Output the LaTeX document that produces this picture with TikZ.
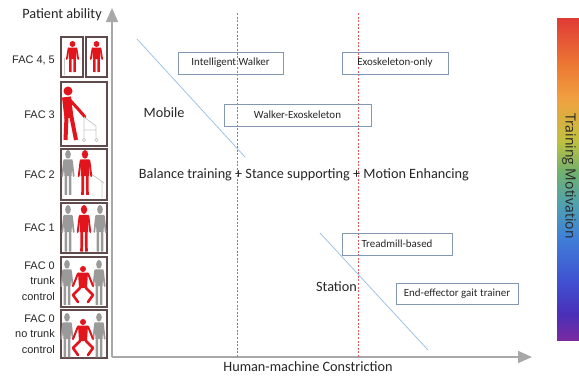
\documentclass[tikz,border=0pt]{standalone}
\usepackage{fontspec}
\setmainfont{Carlito}
\newfontfamily\arialf{Liberation Sans}
\newfontfamily\opensf{Open Sans}
\usetikzlibrary{arrows.meta}
\definecolor{figred}{HTML}{E3151C}
\definecolor{figgray}{HTML}{9A9A9A}
\definecolor{railgray}{HTML}{C8C8C8}
\definecolor{axisgray}{HTML}{A8A8A8}
\definecolor{boxblue}{HTML}{8497B0}
\definecolor{diagblue}{HTML}{9DC3E6}
\definecolor{dashred}{HTML}{E05A5A}
\definecolor{framebrown}{HTML}{5F4B4B}
\definecolor{txt}{HTML}{262626}
\definecolor{g0}{HTML}{E03A35}
\definecolor{g1}{HTML}{EC7A34}
\definecolor{g2}{HTML}{F0A040}
\definecolor{g3}{HTML}{C0C040}
\definecolor{g4}{HTML}{70B070}
\definecolor{g5}{HTML}{50A0B0}
\definecolor{g6}{HTML}{4080D8}
\definecolor{g7}{HTML}{4050D0}
\definecolor{g8}{HTML}{4A30B8}
\definecolor{g9}{HTML}{7A2AA0}
\pgfdeclareverticalshading{rainbowbar}{100bp}{color(0bp)=(g9); color(25bp)=(g9); color(29bp)=(g8); color(34bp)=(g7); color(41bp)=(g6); color(46bp)=(g5); color(51bp)=(g4); color(56bp)=(g3); color(62.5bp)=(g2); color(67.5bp)=(g1); color(75bp)=(g0); color(100bp)=(g0)}
% standing person: x, y (top of head), xscale, yscale, colour
\newcommand\stdperson[5]{%
  \begin{scope}[shift={(#1,#2)},xscale=#3,yscale=#4]
    \fill[#5] (0,3) circle (3);
    \fill[#5] (-4.5,6.5) -- (4.5,6.5) -- (3.8,18) -- (-3.8,18) -- cycle;
    \draw[#5,line width=#3*1.8bp,line cap=round] (-4.2,7.5) -- (-6,18) (4.2,7.5) -- (6,18);
    \draw[#5,line width=#3*2.6bp] (-2.1,17) -- (-2.3,31) (2.1,17) -- (2.3,31);
  \end{scope}}
% supported red figure with bent legs: x, y (top of head)
\newcommand\bentperson[2]{%
  \begin{scope}[shift={(#1,#2)}]
    \fill[figred] (0,3) circle (3);
    \fill[figred] (-5,6.5) -- (5,6.5) -- (4,22) -- (-4,22) -- cycle;
    \draw[figred,line width=2bp,line cap=round] (-5,7.5) -- (-10,20) (5,7.5) -- (10,20);
    \draw[figred,line width=2.6bp,line join=round,line cap=round] (-3,22) -- (-10,29) -- (-5,36) (3,22) -- (10,29) -- (5,36);
  \end{scope}}
\tikzset{
  axisline/.style={draw=axisgray,line width=1.5bp,-{Triangle[width=12bp,length=14bp]}},
  dashline/.style={draw=dashred,line width=0.7bp,dash pattern=on 2bp off 1.6bp},
  diagline/.style={draw=diagblue,line width=0.8bp},
  tbox/.style={draw=boxblue,line width=0.8bp,inner sep=0pt,text=txt,font=\fontsize{11}{12}\selectfont},
  biglabel/.style={text=txt,inner sep=0pt,font=\fontsize{14.3}{16}\selectfont},
  faclabel/.style={text=txt,inner sep=0pt,anchor=east,align=right,font=\arialf\fontsize{11}{15.5}\selectfont},
  iconframe/.style={draw=framebrown,line width=1.2bp,fill=white},
}
\begin{document}
\begin{tikzpicture}[x=1bp,y=-1bp]
\useasboundingbox (0,0) rectangle (579,377);
% colour bar
\shade[shading=rainbowbar] (557,18) rectangle (579,340);
\node[text=txt,inner sep=0pt,rotate=-90,font=\opensf\fontsize{14}{16}\selectfont] (tm) at (569,176) {Training Motivation};
% axes
\coordinate (O) at (112,357);
\coordinate (Ytip) at (112,8);
\coordinate (Xtip) at (532,357);
\draw[axisline] (O) -- (Ytip);
\draw[axisline] (O) -- (Xtip);
% dashed red lines
\coordinate (d1t) at (237,13); \coordinate (d1b) at (237,357);
\coordinate (d2t) at (358,13); \coordinate (d2b) at (358,357);
\draw[dashline] (d1t) -- (d1b);
\draw[dashline] (d2t) -- (d2b);
% diagonal separators
\coordinate (a1) at (137,39); \coordinate (a2) at (245,157);
\coordinate (b1) at (320,233); \coordinate (b2) at (428,350);
\draw[diagline] (a1) -- (a2);
\draw[diagline] (b1) -- (b2);
% boxes
\node[tbox,minimum width=105bp,minimum height=22bp] (iw) at (230.5,63) {Intelligent Walker};
\node[tbox,minimum width=106bp,minimum height=22bp] (eo) at (395,63) {Exoskeleton-only};
\node[tbox,minimum width=147bp,minimum height=22bp] (we) at (297.5,115) {Walker-Exoskeleton};
\node[tbox,minimum width=110bp,minimum height=22bp] (tb) at (397,244) {Treadmill-based};
\node[tbox,minimum width=122bp,minimum height=21bp] (ee) at (457,293.5) {End-effector gait trainer};
% labels
\node[biglabel] (pa) at (62,15) {Patient ability};
\node[biglabel] (mob) at (164,113) {Mobile};
\node[biglabel] (bal) at (304,175) {Balance training + Stance supporting + Motion Enhancing};
\node[biglabel] (sta) at (336.5,287) {Station};
\node[biglabel] (hmc) at (308,367) {Human-machine Constriction};
% FAC labels
\node[faclabel] (f45) at (55,60) {FAC 4, 5};
\node[faclabel] (f3) at (55,115) {FAC 3};
\node[faclabel] (f2) at (55,175) {FAC 2};
\node[faclabel] (f1) at (55,228) {FAC 1};
\node[faclabel] (f0t) at (55,281) {FAC 0\\trunk\\control};
\node[faclabel] (f0n) at (55,334) {FAC 0\\no trunk\\control};
% icon frames
\draw[iconframe] (61,37) rectangle (83,77);
\draw[iconframe] (86,37) rectangle (107,77);
\draw[iconframe] (61,82) rectangle (107,146);
\draw[iconframe] (61,149) rectangle (107,200);
\draw[iconframe] (61,203) rectangle (107,253);
\draw[iconframe] (61,257) rectangle (107,307);
\draw[iconframe] (61,310) rectangle (107,358);
% FAC 4,5
\draw[railgray,line width=0.8bp] (64.5,58) -- (64.5,75);
\stdperson{72.5}{41}{0.95}{1}{figred}
\stdperson{96.5}{41}{0.95}{1}{figred}
% FAC 3
\fill[figred] (68,91) circle (4.5);
\draw[figred,line width=9bp] (66.5,97) -- (69,118);
\draw[figred,line width=3bp,line cap=round,line join=round] (69,99) -- (79,110) -- (85,117);
\draw[figred,line width=4bp] (66.5,117) -- (65.5,140) (71.5,117) -- (76,140);
\draw[railgray,line width=0.8bp] (84,117) -- (96,126) (84,117) -- (84,138) (96,126) -- (96,138) (84,130) -- (96,130);
\draw[railgray,line width=0.6bp] (84,140) circle (1.6) (96.5,140) circle (1.6);
% FAC 2
\stdperson{68}{150}{0.95}{1.45}{figgray}
\draw[railgray,line width=0.8bp] (80,166) -- (104,183) (102,182) -- (102,198);
\stdperson{85}{150}{1.05}{1.45}{figred}
% FAC 1
\stdperson{68}{205}{0.95}{1.5}{figgray}
\stdperson{100}{205}{0.95}{1.5}{figgray}
\stdperson{84}{205}{1.05}{1.5}{figred}
% FAC 0 trunk control
\stdperson{67}{260}{0.95}{1.45}{figgray}
\stdperson{99}{260}{0.95}{1.45}{figgray}
\bentperson{83}{266}
% FAC 0 no trunk control
\stdperson{67}{313}{0.95}{1.43}{figgray}
\stdperson{99}{313}{0.95}{1.43}{figgray}
\bentperson{83}{319}
\end{tikzpicture}
\end{document}
